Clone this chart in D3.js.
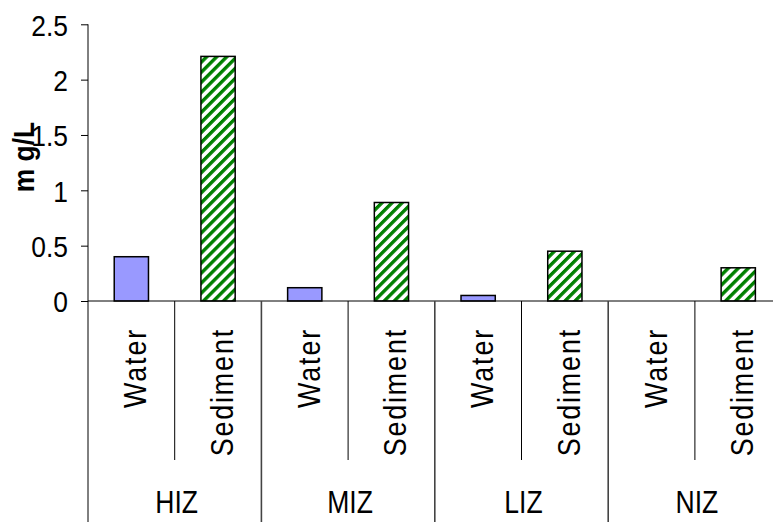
<!DOCTYPE html>
<html>
<head>
<meta charset="utf-8">
<script src="https://cdn.jsdelivr.net/npm/d3@7"></script>
<style>
  html, body { margin: 0; padding: 0; background: #fff; }
  svg { display: block; }
  text { font-family: "Liberation Sans", Arial, sans-serif; fill: #000; }
</style>
</head>
<body>
<script>
const groups = ["HIZ", "MIZ", "LIZ", "NIZ"];
const series = ["Water", "Sediment"];
const waterValues = [0.40, 0.12, 0.05, 0];
const sedimentValues = [2.21, 0.89, 0.45, 0.30];
const yTicks = [0, 0.5, 1, 1.5, 2, 2.5];
const yTitle = "m g/L";

const W = 773, H = 522;
const x0 = 88, y0 = 301, yTop = 24.3, catW = 86.7;

const svg = d3.select("body").append("svg").attr("width", W).attr("height", H);

// stripe pattern for Sediment
const defs = svg.append("defs");
const pat = defs.append("pattern").attr("id", "stripes")
  .attr("patternUnits", "userSpaceOnUse").attr("width", 7.1).attr("height", 7.1)
  .attr("patternTransform", "rotate(45)");
pat.append("rect").attr("width", 7.1).attr("height", 7.1).attr("fill", "#fff");
pat.append("rect").attr("x", 0).attr("y", 0).attr("width", 3.4).attr("height", 7.1).attr("fill", "#008000");

// flattened categories
const cats = [];
groups.forEach((g, gi) => {
  cats.push({group: g, gi, series: series[0], value: waterValues[gi]});
  cats.push({group: g, gi, series: series[1], value: sedimentValues[gi]});
});

const x = d3.scaleBand().domain(cats.map((d, i) => i)).range([x0, x0 + catW * cats.length]).paddingInner(0).paddingOuter(0);
const xGroup = d3.scaleBand().domain(groups).range([x0, x0 + catW * cats.length]);
const y = d3.scaleLinear().domain([0, 2.5]).range([y0, yTop]);

const barW = x.bandwidth() * 0.395;

// bars
svg.append("g").selectAll("rect").data(cats).join("rect")
  .attr("x", (d, i) => x(i) + x.bandwidth() / 2 - barW / 2)
  .attr("y", d => y(d.value))
  .attr("width", barW)
  .attr("height", d => y(0) - y(d.value))
  .attr("fill", d => d.series === "Water" ? "#9999FF" : "url(#stripes)")
  .attr("stroke", "#000").attr("stroke-width", 1.5)
  .style("display", d => d.value > 0 ? null : "none");

// y axis
const yAxis = d3.axisLeft(y).tickValues(yTicks).tickSize(7).tickPadding(13)
  .tickFormat(d => String(d));
const gy = svg.append("g").attr("transform", `translate(${x0},0)`).call(yAxis);
gy.select(".domain").remove();
gy.selectAll(".tick line").attr("stroke", "#000");
gy.selectAll(".tick text").attr("font-size", 30).attr("fill", "#000")
  .attr("font-family", "'Liberation Sans', Arial, sans-serif")
  .attr("dy", "0.36em")
  .each(function() {
    const t = d3.select(this);
    const xx = +t.attr("x");
    t.attr("x", null).attr("transform", `translate(${xx},0) scale(0.88,1)`);
  });
svg.append("line").attr("x1", x0).attr("x2", x0).attr("y1", yTop).attr("y2", H).attr("stroke", "#000");

// x axis baseline
svg.append("line").attr("x1", x0).attr("x2", W).attr("y1", y0).attr("y2", y0).attr("stroke", "#000");

// category separators
cats.forEach((d, i) => {
  if (i === 0) return;
  const xx = x(i);
  const isGroup = i % 2 === 0;
  svg.append("line").attr("x1", xx).attr("x2", xx).attr("y1", y0)
    .attr("y2", isGroup ? H : 460).attr("stroke", isGroup ? "#444" : "#000")
    .attr("stroke-width", isGroup ? 1.6 : 1);
});

// rotated category labels
svg.append("g").selectAll("text").data(cats).join("text")
  .attr("transform", (d, i) => `translate(${x(i) + x.bandwidth() / 2 + 15},328) rotate(-90) scale(0.84,1)`)
  .attr("text-anchor", "end")
  .attr("font-size", 32)
  .attr("letter-spacing", 2.2)
  .text(d => d.series);

// group labels
svg.append("g").selectAll("text").data(groups).join("text")
  .attr("transform", d => `translate(${xGroup(d) + xGroup.bandwidth() / 2 + 2},513) scale(0.83,1)`)
  .attr("text-anchor", "middle")
  .attr("font-size", 32)
  .text(d => d);

// y title
svg.append("text")
  .attr("transform", "translate(34,157) rotate(-90) scale(0.88,1)")
  .attr("text-anchor", "middle")
  .attr("font-size", 30).attr("font-weight", "bold")
  .text(yTitle);
</script>
</body>
</html>
